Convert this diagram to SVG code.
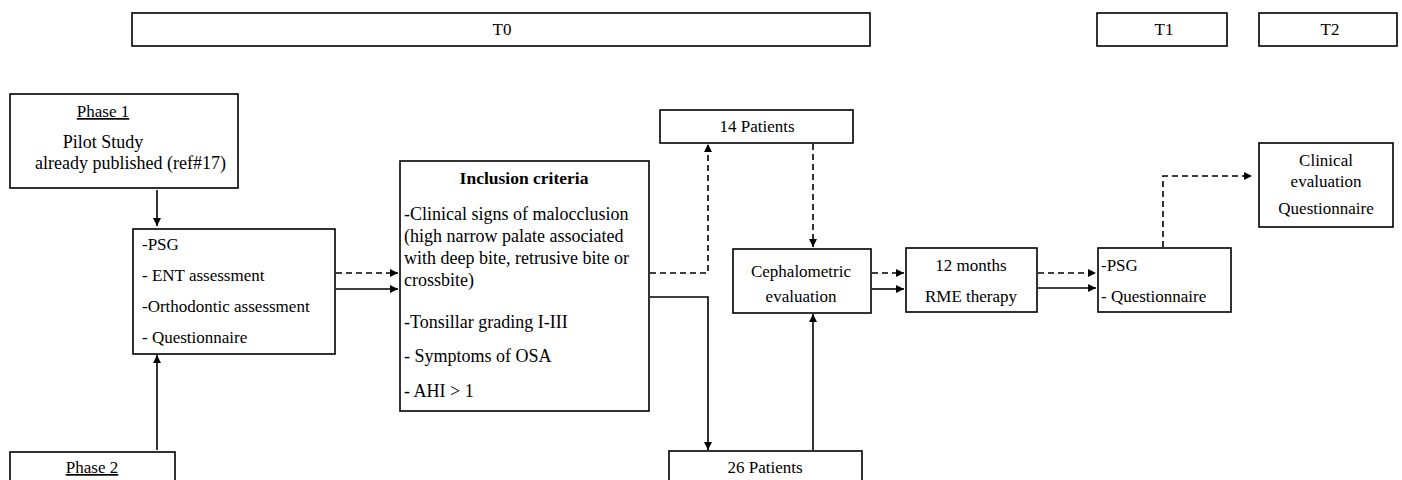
<svg xmlns="http://www.w3.org/2000/svg" width="1402" height="480" viewBox="0 0 1402 480" font-family="'Liberation Serif', 'DejaVu Serif', serif">
<defs>
<marker id="ah" viewBox="0 0 10 10" refX="10" refY="5" markerWidth="8" markerHeight="8" markerUnits="userSpaceOnUse" orient="auto">
<path d="M0,0 L10,5 L0,10 z" fill="#000"/>
</marker>
</defs>
<style>
rect.box{fill:#fff;stroke:#000;stroke-width:1.6}
text{font-family:'Liberation Serif','DejaVu Serif',serif;font-size:17px;fill:#000}
.big text{font-size:18px}
.c{text-anchor:middle}
.u{text-decoration:underline}
.b{font-weight:bold}
.solid{fill:none;stroke:#000;stroke-width:1.6;marker-end:url(#ah)}
.dash{fill:none;stroke:#000;stroke-width:1.6;stroke-dasharray:6 4;marker-end:url(#ah)}
</style>
<rect width="1402" height="480" fill="#fff"/>

<g id="t0"><rect class="box" x="132" y="13" width="738" height="33"/><text class="c" x="502" y="35">T0</text></g>
<g id="t1"><rect class="box" x="1097" y="13" width="130" height="33"/><text class="c" x="1164" y="35">T1</text></g>
<g id="t2"><rect class="box" x="1259" y="13" width="138" height="33"/><text class="c" x="1330" y="35">T2</text></g>

<g id="connectors">
<path class="solid" d="M157,190 V226"/>
<path class="solid" d="M157,450 V355"/>
<path class="dash" d="M336,273 H398"/>
<path class="solid" d="M336,289 H398"/>
<path class="dash" d="M650,273 H708 V144"/>
<path class="solid" d="M650,297 H708 V450"/>
<path class="dash" d="M813,144 V247"/>
<path class="solid" d="M813,450 V314"/>
<path class="dash" d="M872,273 H904"/>
<path class="solid" d="M872,289 H904"/>
<path class="dash" d="M1038,273 H1096"/>
<path class="solid" d="M1038,288 H1096"/>
<path class="dash" d="M1163,247 V176 H1252"/>
</g>

<g id="phase1" class="big"><rect class="box" x="10" y="94" width="228" height="94"/>
<text class="c u" x="103" y="117" style="font-size:17px">Phase 1</text>
<text class="c" x="103" y="148">Pilot Study</text>
<text x="35" y="169">already published (ref#17)</text></g>

<g id="phase2"><rect class="box" x="10" y="452" width="165" height="40"/>
<text class="c u" x="92" y="473">Phase 2</text></g>

<g id="assess"><rect class="box" x="133" y="229" width="202" height="125"/>
<text x="142" y="250">-PSG</text>
<text x="142" y="281">- ENT assessment</text>
<text x="142" y="312">-Orthodontic assessment</text>
<text x="142" y="343">- Questionnaire</text></g>

<g id="inclusion" class="big"><rect class="box" x="400" y="161" width="249" height="250"/>
<text class="c b" x="524" y="184" style="font-size:17.5px">Inclusion criteria</text>
<text x="404" y="220">-Clinical signs of malocclusion</text>
<text x="404" y="242">(high narrow palate associated</text>
<text x="404" y="264">with deep bite, retrusive bite or</text>
<text x="404" y="286">crossbite)</text>
<text x="404" y="328">-Tonsillar grading I-III</text>
<text x="404" y="362">- Symptoms of OSA</text>
<text x="404" y="397">- AHI &gt; 1</text></g>

<g id="p14"><rect class="box" x="660" y="110" width="193" height="33"/>
<text class="c" x="757" y="132">14 Patients</text></g>

<g id="p26"><rect class="box" x="669" y="451" width="193" height="40"/>
<text class="c" x="765" y="473">26 Patients</text></g>

<g id="ceph"><rect class="box" x="733" y="249" width="138" height="64"/>
<text class="c" x="801" y="277">Cephalometric</text>
<text class="c" x="801" y="302">evaluation</text></g>

<g id="rme"><rect class="box" x="906" y="248" width="131" height="64"/>
<text class="c" x="971" y="271">12 months</text>
<text class="c" x="971" y="302">RME therapy</text></g>

<g id="psg2"><rect class="box" x="1098" y="248" width="133" height="64"/>
<text x="1101" y="271">-PSG</text>
<text x="1101" y="302">- Questionnaire</text></g>

<g id="clinical"><rect class="box" x="1259" y="143" width="134" height="84"/>
<text class="c" x="1326" y="166">Clinical</text>
<text class="c" x="1326" y="187">evaluation</text>
<text class="c" x="1326" y="214">Questionnaire</text></g>
</svg>
